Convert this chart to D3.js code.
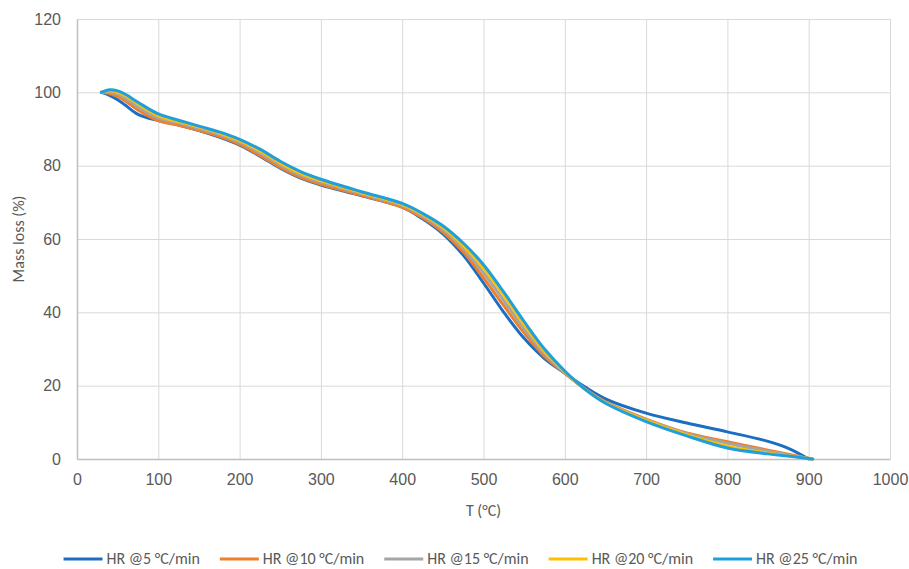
<!DOCTYPE html>
<html>
<head>
<meta charset="utf-8">
<script src="https://cdn.jsdelivr.net/npm/d3@7"></script>
<style>
  html, body { margin: 0; padding: 0; background: #fff; }
  svg { display: block; font-family: Carlito, "Open Sans", sans-serif; }
</style>
</head>
<body>
<svg id="chart" width="909" height="569"></svg>
<script>
// Thermogravimetric curves: mass loss vs temperature at five heating rates
const seriesNames = ["HR @5 °C/min", "HR @10 °C/min", "HR @15 °C/min", "HR @20 °C/min", "HR @25 °C/min"];
const seriesColors = ["#1b6ec2", "#f07e2a", "#a5a5a5", "#ffc000", "#1fa0dc"];

// Temperature points (°C); the final point of each curve is in endTemp
const temperature = [30, 40, 50, 60, 75, 100, 125, 150, 175, 200, 225, 250, 275, 300, 350, 400,
  425, 450, 475, 500, 525, 550, 575, 600, 625, 650, 700, 750, 800, 850, 875];
const endTemp = [900, 904, 904, 905, 905];

const hr5  = [100, 99.2, 98.0, 96.4, 94.0, 92.3, 91.1, 89.6, 87.8, 85.6, 82.6, 79.3, 76.6, 74.7, 71.8, 68.7,
  65.5, 61.4, 55.6, 48.0, 40.0, 32.9, 27.4, 23.4, 19.6, 16.4, 12.5, 9.8, 7.4, 4.8, 2.9, 0];
const hr10 = [100, 99.7, 98.9, 97.6, 95.2, 92.3, 91.0, 89.6, 88.0, 85.8, 82.8, 79.5, 76.8, 74.9, 71.9, 68.6,
  65.8, 61.9, 56.5, 49.4, 41.8, 34.4, 28.0, 23.4, 19.1, 15.6, 10.9, 7.1, 4.7, 2.4, 1.3, 0];
const hr15 = [100, 100.1, 99.5, 98.3, 96.0, 93.0, 91.6, 90.1, 88.5, 86.4, 83.5, 80.2, 77.4, 75.5, 72.3, 69.1,
  66.3, 62.6, 57.4, 50.8, 43.2, 35.5, 28.7, 23.6, 19.0, 15.4, 10.7, 6.9, 4.3, 2.1, 1.1, 0];
const hr20 = [100, 100.4, 100.0, 99.0, 96.8, 93.6, 92.0, 90.5, 88.9, 86.8, 84.0, 80.7, 77.9, 75.9, 72.6, 69.4,
  66.7, 63.1, 58.2, 52.0, 44.6, 36.6, 29.3, 23.8, 19.0, 15.3, 10.5, 6.6, 3.5, 1.6, 0.9, 0];
const hr25 = [100, 100.7, 100.4, 99.4, 97.3, 94.1, 92.4, 90.8, 89.2, 87.2, 84.5, 81.2, 78.4, 76.3, 72.9, 69.7,
  67.0, 63.6, 58.9, 53.0, 45.5, 37.5, 30.0, 24.0, 19.0, 15.2, 10.2, 6.3, 3.0, 1.4, 0.8, 0];
const seriesValues = [hr5, hr10, hr15, hr20, hr25];

const xTicks = [0, 100, 200, 300, 400, 500, 600, 700, 800, 900, 1000];
const yTicks = [0, 20, 40, 60, 80, 100, 120];

const svg = d3.select("#chart");
const plot = { left: 77, right: 890, top: 19, bottom: 459 };
const textColor = "#595959";
const fontSize = "16px";

const x = d3.scaleLinear().domain([0, 1000]).range([plot.left, plot.right]);
const y = d3.scaleLinear().domain([0, 120]).range([plot.bottom, plot.top]);
const fmt = d3.format("d");

// Gridlines
svg.append("g")
  .attr("transform", `translate(0,${plot.bottom})`)
  .call(d3.axisBottom(x).tickValues(xTicks.slice(1)).tickSize(-(plot.bottom - plot.top)).tickFormat(""))
  .call(g => g.select(".domain").remove())
  .call(g => g.selectAll("line").attr("stroke", "#d9d9d9").attr("stroke-width", 1));
svg.append("g")
  .attr("transform", `translate(${plot.left},0)`)
  .call(d3.axisLeft(y).tickValues(yTicks.slice(1)).tickSize(-(plot.right - plot.left)).tickFormat(""))
  .call(g => g.select(".domain").remove())
  .call(g => g.selectAll("line").attr("stroke", "#d9d9d9").attr("stroke-width", 1));

// Axes
svg.append("g")
  .attr("transform", `translate(0,${plot.bottom})`)
  .call(d3.axisBottom(x).tickValues(xTicks).tickFormat(fmt).tickSize(0).tickPadding(15))
  .call(g => g.select(".domain").attr("stroke", "#bfbfbf").attr("stroke-width", 1.5))
  .call(g => g.selectAll("text").attr("fill", textColor).style("font-size", fontSize).attr("font-family", null));
svg.append("g")
  .attr("transform", `translate(${plot.left},0)`)
  .call(d3.axisLeft(y).tickValues(yTicks).tickFormat(fmt).tickSize(0).tickPadding(16))
  .call(g => g.select(".domain").attr("stroke", "#bfbfbf").attr("stroke-width", 1.5))
  .call(g => g.selectAll("text").attr("fill", textColor).style("font-size", fontSize).attr("font-family", null));

// Axis titles
svg.append("text")
  .attr("x", (plot.left + plot.right) / 2).attr("y", 516)
  .attr("text-anchor", "middle").attr("fill", textColor).style("font-size", fontSize)
  .text("T (°C)");
svg.append("text")
  .attr("transform", `translate(24,${(plot.top + plot.bottom) / 2}) rotate(-90)`)
  .attr("text-anchor", "middle").attr("fill", textColor).style("font-size", fontSize)
  .text("Mass loss (%)");

// Curves
const line = d3.line()
  .x(d => x(d[0])).y(d => y(d[1]))
  .curve(d3.curveCatmullRom.alpha(0.5));

seriesValues.forEach((vals, i) => {
  const temps = temperature.concat([endTemp[i]]);
  const pts = vals.map((v, j) => [temps[j], v]);
  svg.append("path")
    .datum(pts)
    .attr("fill", "none")
    .attr("stroke", seriesColors[i])
    .attr("stroke-width", 3)
    .attr("stroke-linecap", "round")
    .attr("stroke-linejoin", "round")
    .attr("d", line);
});

// Legend
const legend = svg.append("g");
const swatch = 39, swatchGap = 4, itemGap = 20;
let cursor = 0;
seriesNames.forEach((name, i) => {
  const item = legend.append("g").attr("transform", `translate(${cursor},0)`);
  item.append("line")
    .attr("x1", 0).attr("x2", swatch).attr("y1", 0).attr("y2", 0)
    .attr("stroke", seriesColors[i]).attr("stroke-width", 3);
  const t = item.append("text")
    .attr("x", swatch + swatchGap).attr("y", 0).attr("dy", "0.32em")
    .attr("fill", textColor).style("font-size", fontSize)
    .text(name);
  cursor += swatch + swatchGap + t.node().getComputedTextLength() + itemGap;
});
const legendWidth = cursor - itemGap;
legend.attr("transform", `translate(${460.5 - legendWidth / 2},559)`);
</script>
</body>
</html>
